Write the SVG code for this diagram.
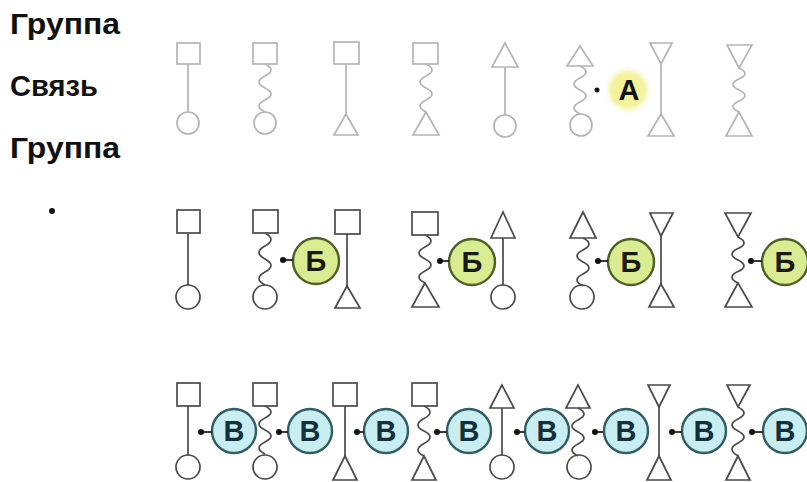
<svg xmlns="http://www.w3.org/2000/svg" width="807" height="482" viewBox="0 0 807 482">
<style>
.lt{fill:none;stroke:#b4b4b4;stroke-width:1.7}
.dk{fill:none;stroke:#4a4a4a;stroke-width:1.7}
.hd{font-family:"Liberation Sans",Arial,sans-serif;font-weight:bold;font-size:29px;fill:#111}
.lbl{font-family:"Liberation Sans",Arial,sans-serif;font-weight:bold;font-size:29px;text-anchor:middle}
.cb{fill:#d9ec92;stroke:#4d6126;stroke-width:2.4}
.cv{fill:#c9eef1;stroke:#2f5d63;stroke-width:2.4}
.dot{fill:#111}
.ln{stroke:#222;stroke-width:1.8}
</style>
<defs>
<radialGradient id="glow" cx="0.5" cy="0.5" r="0.5">
<stop offset="0" stop-color="#f1f08a"/>
<stop offset="0.7" stop-color="#f3f3a2"/>
<stop offset="1" stop-color="#fbfbe0" stop-opacity="0"/>
</radialGradient>
</defs>
<rect width="807" height="482" fill="#ffffff"/>

<g id="headings">
<text class="hd" x="10" y="34" textLength="110" lengthAdjust="spacingAndGlyphs">Группа</text>
<text class="hd" x="10" y="96" textLength="88" lengthAdjust="spacingAndGlyphs">Связь</text>
<text class="hd" x="10" y="158" textLength="110" lengthAdjust="spacingAndGlyphs">Группа</text>
<circle class="dot" cx="52" cy="211" r="3"/>
</g>

<!-- Row 1 -->
<g id="r1f1" class="lt"><rect x="177" y="43" width="23" height="21"/><line x1="188" y1="64" x2="188" y2="112"/><circle cx="188" cy="123" r="11"/></g>
<g id="r1f2" class="lt"><rect x="253" y="43" width="24" height="21"/><path d="M265,64 q12,6 0,12 t0,12 t0,12 t0,12"/><circle cx="265" cy="123" r="11"/></g>
<g id="r1f3" class="lt"><rect x="334" y="42" width="25" height="22"/><line x1="346" y1="64" x2="346" y2="114"/><polygon points="346,114 334,135 358,135"/></g>
<g id="r1f4" class="lt"><rect x="413" y="43" width="25" height="21"/><path d="M426,64 q12,6 0,12 t0,12 t0,12 t0,12"/><polygon points="426,112 413,135 439,135"/></g>
<g id="r1f5" class="lt"><polygon points="505,43 492,67 518,67"/><line x1="505" y1="67" x2="505" y2="115"/><circle cx="505" cy="126" r="11"/></g>
<g id="r1f6" class="lt"><polygon points="580,46 567,66 593,66"/><path d="M580,66 q12,6 0,12 t0,12 t0,12 t0,12"/><circle cx="581" cy="125" r="11"/></g>
<g id="r1f7" class="lt"><polygon points="650,43 672,43 661,64"/><line x1="661" y1="64" x2="661" y2="114"/><polygon points="661,114 648,136 674,136"/></g>
<g id="r1f8" class="lt"><polygon points="727,45 752,45 739,68"/><path d="M739,68 q12,5.5 0,11 t0,11 t0,11 t0,11"/><polygon points="739,112 726,136 752,136"/></g>
<g id="labelA"><circle cx="628" cy="90" r="24" fill="url(#glow)"/><text class="lbl" x="629" y="100" fill="#111">А</text></g>

<!-- Row 2 -->
<g id="r2f1" class="dk"><rect x="177" y="210" width="23" height="23"/><line x1="188" y1="233" x2="188" y2="285"/><circle cx="188" cy="297" r="12"/></g>
<g id="r2f2" class="dk"><rect x="253" y="210" width="25" height="23"/><path d="M265,233 q12,6.5 0,13 t0,13 t0,13 t0,13"/><circle cx="265" cy="297" r="12"/></g>
<g id="r2f3" class="dk"><rect x="335" y="210" width="25" height="24"/><line x1="347" y1="234" x2="347" y2="286"/><polygon points="347,286 335,308 360,308"/></g>
<g id="r2f4" class="dk"><rect x="412" y="212" width="26" height="23"/><path d="M425,235 q12,6 0,12 t0,12 t0,12 t0,12"/><polygon points="425,283 412,307 439,307"/></g>
<g id="r2f5" class="dk"><polygon points="503,212 491,238 515,238"/><line x1="503" y1="238" x2="503" y2="285"/><circle cx="503" cy="297" r="12"/></g>
<g id="r2f6" class="dk"><polygon points="583,212 570,238 596,238"/><path d="M583,238 q12,6 0,12 t0,12 t0,12 t0,12"/><circle cx="582" cy="297" r="12"/></g>
<g id="r2f7" class="dk"><polygon points="650,213 673,213 661,236"/><line x1="661" y1="236" x2="661" y2="284"/><polygon points="661,284 649,307 674,307"/></g>
<g id="r2f8" class="dk"><polygon points="725,213 751,213 738,237"/><path d="M738,237 q12,6 0,11.5 t0,11.5 t0,11.5 t0,11.5"/><polygon points="738,283 725,307 752,307"/></g>
<g id="labelB1"><circle class="cb" cx="316" cy="261" r="23"/><text class="lbl" x="316" y="271" fill="#1a1a10">Б</text></g>
<g id="labelB2"><circle class="cb" cx="472" cy="262" r="23"/><text class="lbl" x="472" y="272" fill="#1a1a10">Б</text></g>
<g id="labelB3"><circle class="cb" cx="631" cy="262" r="23"/><text class="lbl" x="631" y="272" fill="#1a1a10">Б</text></g>
<g id="labelB4"><circle class="cb" cx="785" cy="262" r="23"/><text class="lbl" x="785" y="272" fill="#1a1a10">Б</text></g>

<!-- Row 3 -->
<g id="labelV1"><circle class="cv" cx="234" cy="431" r="22"/><text class="lbl" x="234" y="441" fill="#14303a">В</text></g>
<g id="labelV2"><circle class="cv" cx="310" cy="431" r="22"/><text class="lbl" x="310" y="441" fill="#14303a">В</text></g>
<g id="labelV3"><circle class="cv" cx="386" cy="431" r="22"/><text class="lbl" x="386" y="441" fill="#14303a">В</text></g>
<g id="labelV4"><circle class="cv" cx="469" cy="431" r="22"/><text class="lbl" x="469" y="441" fill="#14303a">В</text></g>
<g id="labelV5"><circle class="cv" cx="547" cy="431" r="22"/><text class="lbl" x="547" y="441" fill="#14303a">В</text></g>
<g id="labelV6"><circle class="cv" cx="626" cy="431" r="22"/><text class="lbl" x="626" y="441" fill="#14303a">В</text></g>
<g id="labelV7"><circle class="cv" cx="704" cy="431" r="22"/><text class="lbl" x="704" y="441" fill="#14303a">В</text></g>
<g id="labelV8"><circle class="cv" cx="785" cy="431" r="22"/><text class="lbl" x="785" y="441" fill="#14303a">В</text></g>
<g id="r3f1" class="dk"><rect x="177" y="383" width="23" height="23"/><line x1="188" y1="406" x2="188" y2="455"/><circle cx="188" cy="467" r="12"/></g>
<g id="r3f2" class="dk"><rect x="253" y="383" width="24" height="23"/><path d="M265,406 q12,6 0,12 t0,12 t0,12 t0,12"/><circle cx="265" cy="467" r="12"/></g>
<g id="r3f3" class="dk"><rect x="333" y="383" width="24" height="23"/><line x1="345" y1="406" x2="345" y2="456"/><polygon points="345,456 333,480 357,480"/></g>
<g id="r3f4" class="dk"><rect x="412" y="383" width="25" height="23"/><path d="M424,406 q12,6 0,12.5 t0,12.5 t0,12.5 t0,12.5"/><polygon points="424,456 412,480 436,480"/></g>
<g id="r3f5" class="dk"><polygon points="502,385 490,408 514,408"/><line x1="502" y1="408" x2="502" y2="455"/><circle cx="502" cy="467" r="12"/></g>
<g id="r3f6" class="dk"><polygon points="578,385 566,408 590,408"/><path d="M578,408 q12,6 0,12 t0,12 t0,12 t0,12"/><circle cx="579" cy="467" r="12"/></g>
<g id="r3f7" class="dk"><polygon points="648,385 670,385 659,407"/><line x1="659" y1="407" x2="659" y2="456"/><polygon points="659,456 647,480 671,480"/></g>
<g id="r3f8" class="dk"><polygon points="727,385 750,385 738,407"/><path d="M738,407 q12,6 0,12 t0,12 t0,12 t0,13"/><polygon points="738,456 726,480 750,480"/></g>

<g id="connectors">
<circle class="dot" cx="597" cy="90" r="2.5"/>
<line class="ln" x1="283" y1="260" x2="293" y2="260"/><circle class="dot" cx="283" cy="260" r="3"/>
<line class="ln" x1="440" y1="261" x2="449" y2="261"/><circle class="dot" cx="440" cy="261" r="3"/>
<line class="ln" x1="598" y1="261" x2="608" y2="261"/><circle class="dot" cx="598" cy="261" r="3"/>
<line class="ln" x1="751" y1="261" x2="762" y2="261"/><circle class="dot" cx="751" cy="261" r="3"/>
<line class="ln" x1="201" y1="432" x2="212" y2="432"/><circle class="dot" cx="201" cy="432" r="3"/>
<line class="ln" x1="279" y1="432" x2="288" y2="432"/><circle class="dot" cx="279" cy="432" r="3"/>
<line class="ln" x1="357" y1="432" x2="364" y2="432"/><circle class="dot" cx="357" cy="432" r="3"/>
<line class="ln" x1="437" y1="432" x2="447" y2="432"/><circle class="dot" cx="437" cy="432" r="3"/>
<line class="ln" x1="517" y1="432" x2="525" y2="432"/><circle class="dot" cx="517" cy="432" r="3"/>
<line class="ln" x1="595" y1="432" x2="603" y2="432"/><circle class="dot" cx="595" cy="432" r="3"/>
<line class="ln" x1="672" y1="432" x2="682" y2="432"/><circle class="dot" cx="672" cy="432" r="3"/>
<line class="ln" x1="752" y1="432" x2="763" y2="432"/><circle class="dot" cx="752" cy="432" r="3"/>
</g>
</svg>
